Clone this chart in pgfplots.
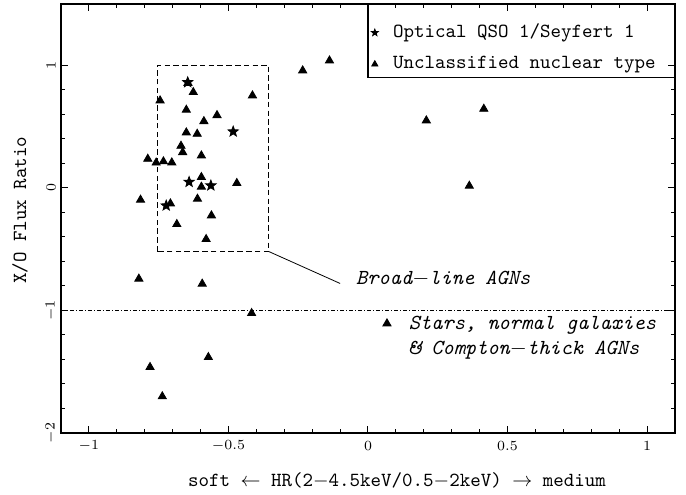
\documentclass[border=0pt]{standalone}
\usepackage{pgfplots}
\pgfplotsset{compat=1.18}

% filled five-point star
\pgfdeclareplotmark{fstar}{%
  \pgfpathmoveto{\pgfpointpolar{90}{\pgfplotmarksize}}%
  \pgfpathlineto{\pgfpointpolar{126}{0.42\pgfplotmarksize}}%
  \pgfpathlineto{\pgfpointpolar{162}{\pgfplotmarksize}}%
  \pgfpathlineto{\pgfpointpolar{198}{0.42\pgfplotmarksize}}%
  \pgfpathlineto{\pgfpointpolar{234}{\pgfplotmarksize}}%
  \pgfpathlineto{\pgfpointpolar{270}{0.42\pgfplotmarksize}}%
  \pgfpathlineto{\pgfpointpolar{306}{\pgfplotmarksize}}%
  \pgfpathlineto{\pgfpointpolar{342}{0.42\pgfplotmarksize}}%
  \pgfpathlineto{\pgfpointpolar{18}{\pgfplotmarksize}}%
  \pgfpathlineto{\pgfpointpolar{54}{0.42\pgfplotmarksize}}%
  \pgfpathclose
  \pgfusepathqfillstroke
}

\begin{document}
\begin{tikzpicture}
\begin{axis}[
  scale only axis,
  width=307pt, height=214.5pt,
  xmin=-1.1, xmax=1.1,
  ymin=-2, ymax=1.5,
  xtick={-1,-0.5,0,0.5,1},
  ytick={-2,-1,0,1},
  minor x tick num=4,
  minor y tick num=4,
  tick align=inside,
  major tick length=3.5pt,
  minor tick length=2pt,
  axis line style={line width=0.6pt},
  tick style={line width=0.5pt, black},
  ticklabel style={font=\fontsize{7}{8}\selectfont},
  xticklabel style={anchor=center},
  xticklabel shift=6.5pt,
  yticklabel style={rotate=90, anchor=center},
  yticklabel shift=5pt,
  xlabel={soft $\leftarrow$ HR(2$-$4.5keV/0.5$-$2keV) $\rightarrow$ medium},
  ylabel={X/O Flux Ratio},
  label style={font=\ttfamily\fontsize{10}{12}\selectfont},
  xlabel style={at={(axis description cs:0.5,0)}, anchor=center, xshift=14.5pt, yshift=-23.5pt},
  ylabel style={at={(axis description cs:0,0.5)}, anchor=center, yshift=20.5pt, xshift=4pt},
  legend style={at={(0.5,1)}, anchor=north west, draw=none, fill=none,
    font=\ttfamily\fontsize{10}{12}\selectfont,
    inner xsep=1.5pt, inner ysep=10pt, column sep=7.5pt, row sep=7.5pt,
    nodes={inner sep=0pt, text height=6.5pt, text depth=1.8pt}},
  legend cell align=left,
  legend image code/.code={\draw[mark repeat=2, mark phase=2, #1, mark size=1.8pt]
    plot coordinates {(0pt,0pt)(3pt,0pt)(6pt,0pt)};},
]

% legend frame
\draw[line width=0.6pt] (axis cs:0,1.5) rectangle (axis cs:1.1,0.9);

% broad-line AGN region
\draw[dash pattern=on 2.8pt off 1.6pt, line width=0.5pt]
  (axis cs:-0.755,-0.52) rectangle (axis cs:-0.355,1.0);
\draw[line width=0.4pt] (axis cs:-0.355,-0.52) -- (axis cs:-0.100,-0.78);
\node[anchor=west, font=\ttfamily\itshape\fontsize{10.7}{12}\selectfont]
  at (axis cs:-0.068,-0.745) {Broad$-$line AGNs};

% X/O = -1 boundary
\draw[dash pattern=on 2pt off 1pt on 0.5pt off 1pt, line width=0.4pt]
  (axis cs:-1.1,-1) -- (axis cs:1.1,-1);
\node[anchor=north west, align=left, inner sep=0pt,
  font=\ttfamily\itshape\fontsize{10.7}{12.5}\selectfont]
  at (axis cs:0.145,-1.045) {Stars, normal galaxies\\\& Compton$-$thick AGNs};

\addplot[only marks, mark=fstar, mark size=2.7pt, black] coordinates {
  (-0.646,0.861)
  (-0.483,0.459)
  (-0.641,0.048)
  (-0.563,0.019)
  (-0.723,-0.145)
};
\addlegendentry{Optical QSO 1/Seyfert 1}

\addplot[only marks, mark=triangle*, mark size=2.35pt, black] coordinates {
  (-0.645,0.855)
  (-0.626,0.780)
  (-0.745,0.712)
  (-0.414,0.753)
  (-0.651,0.636)
  (-0.541,0.592)
  (-0.588,0.543)
  (-0.651,0.451)
  (-0.612,0.440)
  (-0.670,0.342)
  (-0.664,0.290)
  (-0.597,0.263)
  (-0.789,0.236)
  (-0.759,0.205)
  (-0.733,0.215)
  (-0.703,0.206)
  (-0.597,0.087)
  (-0.597,0.008)
  (-0.470,0.038)
  (-0.815,-0.098)
  (-0.708,-0.128)
  (-0.611,-0.090)
  (-0.561,-0.226)
  (-0.685,-0.297)
  (-0.580,-0.419)
  (-0.821,-0.742)
  (-0.594,-0.783)
  (-0.417,-1.023)
  (-0.572,-1.382)
  (-0.781,-1.463)
  (-0.737,-1.702)
  (-0.234,0.957)
  (-0.138,1.038)
  (0.209,0.549)
  (0.415,0.644)
  (0.363,0.016)
  (0.068,-1.107)
};
\addlegendentry{Unclassified nuclear type}

\end{axis}
% page margins as in the reference
\path ([shift={(-30.5pt,-29pt)}]current axis.south west)
  rectangle ([shift={(5.5pt,2pt)}]current axis.north east);
\end{tikzpicture}
\end{document}
